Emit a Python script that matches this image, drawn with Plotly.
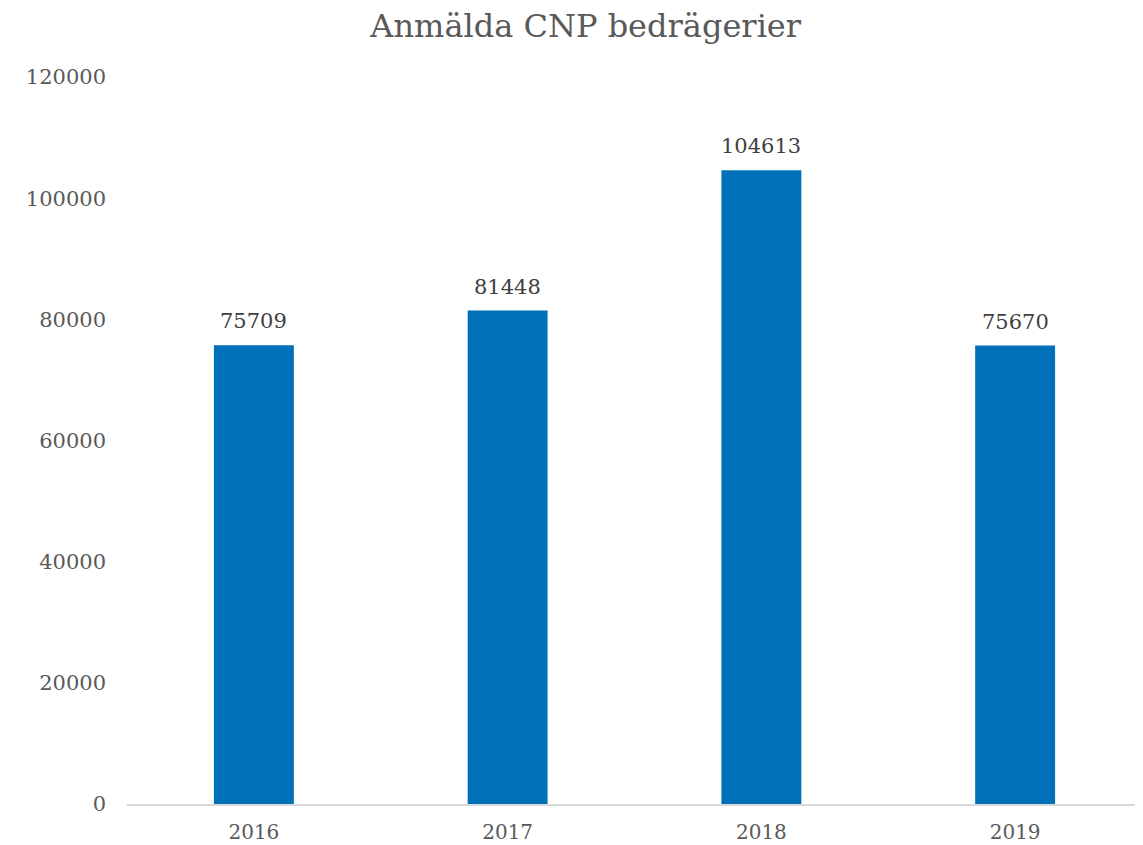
import plotly.graph_objects as go

years = ["2016", "2017", "2018", "2019"]
values = [75709, 81448, 104613, 75670]
title = "Anmälda CNP bedrägerier"
y_ticks = [0, 20000, 40000, 60000, 80000, 100000, 120000]

font_family = "DejaVu Serif, Liberation Serif, serif"

fig = go.Figure(
    go.Bar(
        x=years,
        y=values,
        marker=dict(color="#0070B8", line=dict(width=0)),
        hoverinfo="x+y",
    )
)

# value labels above bars (category index positions on the category axis)
for i, v in enumerate(values):
    fig.add_annotation(
        x=i,
        y=v,
        text=str(v),
        showarrow=False,
        yanchor="bottom",
        yshift=10,
        font=dict(family=font_family, size=21, color="#404040"),
    )

# page body adds an 8px offset, so the figure is sized/margined to compensate
fig.update_layout(
    width=1135,
    height=837,
    margin=dict(l=119, r=1, t=69, b=41, autoexpand=False),
    paper_bgcolor="white",
    plot_bgcolor="white",
    bargap=0.685,
    showlegend=False,
    title=dict(
        text=title,
        x=0.509,
        xanchor="center",
        y=0.979,
        yanchor="middle",
        font=dict(family=font_family, size=32, color="#595959"),
    ),
    font=dict(family=font_family, color="#595959"),
)

fig.update_xaxes(
    type="category",
    range=[-0.5, len(years) - 0.5],
    showline=True,
    linecolor="#D9D9D9",
    linewidth=2,
    ticks="",
    automargin=False,
    ticklabelstandoff=9,
    tickfont=dict(family=font_family, size=20, color="#595959"),
    showgrid=False,
)
fig.update_yaxes(
    range=[0, 120000],
    tickvals=y_ticks,
    ticktext=[str(v) for v in y_ticks],
    showgrid=False,
    zeroline=False,
    showline=False,
    ticks="",
    automargin=False,
    ticklabelstandoff=20,
    tickfont=dict(family=font_family, size=21, color="#595959"),
)

fig.write_html("out.html")
